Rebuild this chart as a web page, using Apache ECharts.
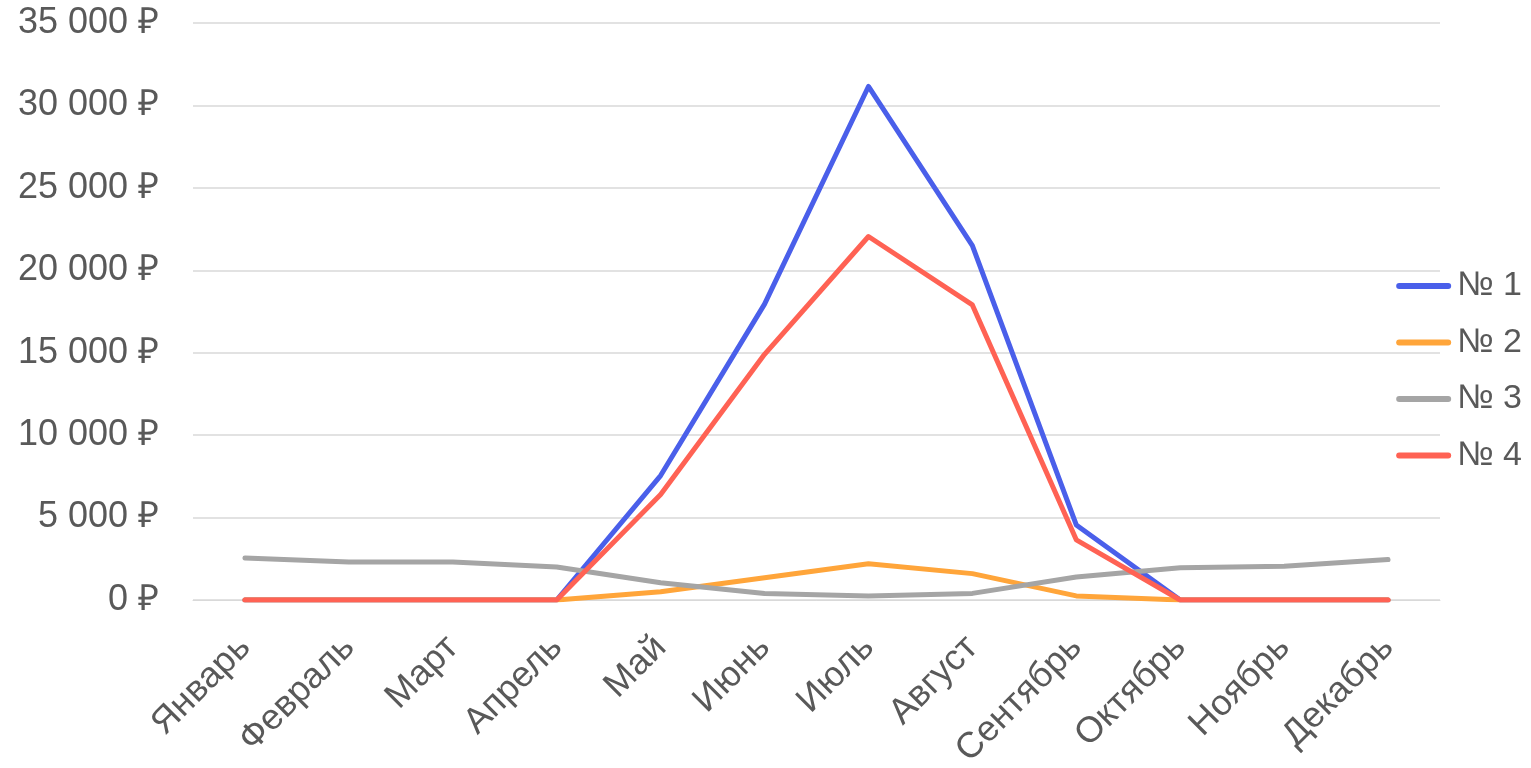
<!DOCTYPE html>
<html><head><meta charset="utf-8">
<script src="https://cdn.jsdelivr.net/npm/echarts@6/dist/echarts.min.js"></script>
<style>html,body{margin:0;padding:0;background:#fff}#c{width:1531px;height:768px}</style>
</head><body><div id="c"></div>
<script>
const months = ['Январь','Февраль','Март','Апрель','Май','Июнь','Июль','Август','Сентябрь','Октябрь','Ноябрь','Декабрь'];
const s1 = [0,0,0,0,7550,17950,31150,21500,4550,0,0,0];
const s2 = [0,0,0,0,500,1350,2200,1600,250,0,0,0];
const s3 = [2550,2300,2300,2000,1050,400,250,400,1400,1950,2050,2450];
const s4 = [0,0,0,0,6400,14900,22050,17900,3650,0,0,0];
const names = ['№ 1','№ 2','№ 3','№ 4'];
const colors = ['#4A5FEA','#FFA53A','#A5A5A5','#FF6254'];
const data = [s1,s2,s3,s4];

const chart = echarts.init(document.getElementById('c'));
const fmt = v => (v === 0 ? '0' : String(v).replace(/\B(?=(\d{3})+(?!\d))/g, ' ')) + ' ₽';
chart.setOption({
  animation:false,
  textStyle:{fontFamily:'Liberation Sans, Arial, sans-serif'},
  color: colors,
  grid:{left:193,right:91,top:23,bottom:168,containLabel:false,outerBoundsMode:'none'},
  legend:{
    orient:'vertical', right:4, top:264,
    itemWidth:55, itemHeight:6, itemGap:22.5,
    textStyle:{fontSize:34,color:'#595959',padding:[0,0,0,1]},
    data:names.map((n,i)=>({name:n,icon:'path://M3,0 L52,0 A3,3 0 0 1 52,6 L3,6 A3,3 0 0 1 3,0 Z'}))
  },
  xAxis:{
    type:'category', data:months, boundaryGap:true,
    axisLine:{show:true,lineStyle:{color:'#D9D9D9',width:1}},
    axisTick:{show:false},
    axisLabel:{rotate:45,fontSize:36,color:'#595959',margin:42,interval:0}
  },
  yAxis:{
    type:'value', min:0, max:35000, interval:5000,
    axisLine:{show:false}, axisTick:{show:false},
    splitLine:{lineStyle:{color:'#D9D9D9',width:1.5}},
    axisLabel:{fontSize:36,color:'#595959',margin:34,formatter:fmt}
  },
  series: data.map((d,i)=>({
    name:names[i], type:'line', data:d, symbol:'none',
    lineStyle:{width:5,color:colors[i],cap:'round',join:'round'},
    itemStyle:{color:colors[i]}
  }))
});
</script></body></html>
